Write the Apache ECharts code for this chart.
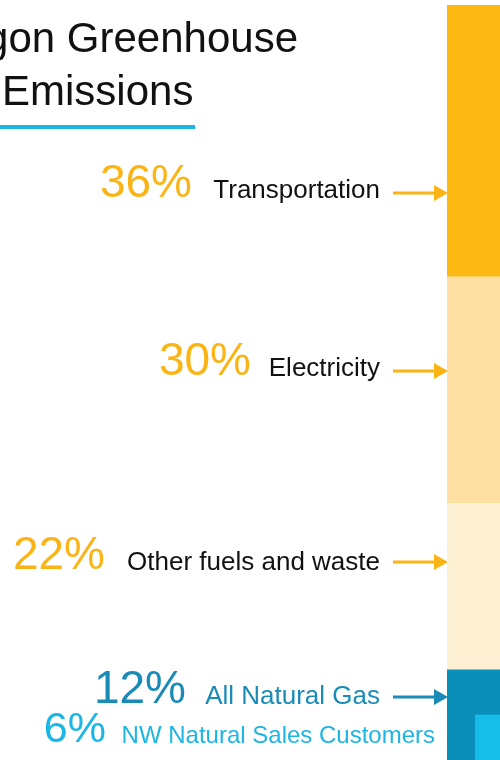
<!DOCTYPE html>
<html>
<head>
<meta charset="utf-8">
<script src="https://cdn.jsdelivr.net/npm/echarts@6/dist/echarts.min.js"></script>
<style>
  html, body { margin: 0; padding: 0; background: #fff; }
  #main { width: 500px; height: 760px; }
</style>
</head>
<body>
<div id="main"></div>
<script>
var titleLines = ['gon Greenhouse', 'Emissions'];
var categories = ['Transportation', 'Electricity', 'Other fuels and waste', 'All Natural Gas'];
var shares = [36, 30, 22, 12];
var subCategory = 'NW Natural Sales Customers';
var subShare = 6;

var barColors = ['#fdb913', '#fddfa1', '#fef0d3', '#0a8fba'];
var subColor = '#16bde9';
var pctColors = ['#fbb415', '#fbb415', '#fbb415', '#1a8bb6'];
var subPctColor = '#1cb6e4';
var nameColors = ['#111', '#111', '#111', '#1a8bb6'];

// label rows: arrow y, baseline y
var rows = [
  { arrowY: 193, base: 200 },
  { arrowY: 371, base: 378 },
  { arrowY: 562, base: 572 },
  { arrowY: 697, base: 706 }
];

var FONT = '"Liberation Sans", Arial, sans-serif';
var dom = document.getElementById('main');
var myChart = echarts.init(dom);

function textAt(str, x, base, size, color, align) {
  return {
    type: 'text',
    style: {
      text: str,
      x: x,
      y: base - size * 0.34,
      fill: color,
      font: size + 'px ' + FONT,
      textAlign: align,
      textVerticalAlign: 'middle'
    }
  };
}

function arrow(y, color) {
  return {
    type: 'group',
    children: [
      { type: 'line', shape: { x1: 393, y1: y, x2: 437, y2: y }, style: { stroke: color, lineWidth: 3 } },
      { type: 'polygon', shape: { points: [[434, y - 8], [448, y], [434, y + 8]] }, style: { fill: color } }
    ]
  };
}

var graphics = [
  textAt(titleLines[0], 298, 55, 42, '#111', 'right'),
  textAt(titleLines[1], 2, 108, 42, '#111', 'left'),
  { type: 'rect', shape: { x: 0, y: 125, width: 195, height: 4 }, style: { fill: '#1ab7e6' } }
];

var pctRight = [192, 251, 105, 186];
for (var i = 0; i < categories.length; i++) {
  graphics.push(textAt(shares[i] + '%', pctRight[i], rows[i].base, 46, pctColors[i], 'right'));
  graphics.push(textAt(categories[i], 380, rows[i].base, 26, nameColors[i], 'right'));
  graphics.push(arrow(rows[i].arrowY, i === 3 ? '#1a8bb6' : '#fbb415'));
}
graphics.push(textAt(subShare + '%', 106, 745, 43, subPctColor, 'right'));
graphics.push(textAt(subCategory, 435, 745, 24, subPctColor, 'right'));

var series = [];
for (var j = 0; j < categories.length; j++) {
  series.push({
    name: categories[j],
    type: 'bar',
    stack: 'total',
    barWidth: '100%',
    xAxisIndex: 0,
    yAxisIndex: 0,
    itemStyle: { color: barColors[j] },
    data: [shares[j]]
  });
}
// NW Natural customers: nested inside natural gas, at the bottom
series.push({
  name: 'base',
  type: 'bar',
  stack: 'sub',
  barWidth: '100%',
  xAxisIndex: 1,
  yAxisIndex: 1,
  silent: true,
  itemStyle: { color: 'transparent' },
  data: [100 - subShare]
});
series.push({
  name: subCategory,
  type: 'bar',
  stack: 'sub',
  barWidth: '100%',
  xAxisIndex: 1,
  yAxisIndex: 1,
  itemStyle: { color: subColor },
  data: [subShare]
});

option = {
  animation: false,
  backgroundColor: '#fff',
  grid: [
    { left: 447, right: -100, top: 5, bottom: -1 },
    { left: 475, right: -100, top: 5, bottom: -1 }
  ],
  xAxis: [
    { type: 'category', gridIndex: 0, data: ['Oregon'], show: false },
    { type: 'category', gridIndex: 1, data: ['Oregon'], show: false }
  ],
  yAxis: [
    { type: 'value', gridIndex: 0, min: 0, max: 100, inverse: true, show: false },
    { type: 'value', gridIndex: 1, min: 0, max: 100, inverse: true, show: false }
  ],
  graphic: graphics,
  series: series
};

if (option && typeof option === "object") {
  myChart.setOption(option, true);
}
</script>
</body>
</html>
